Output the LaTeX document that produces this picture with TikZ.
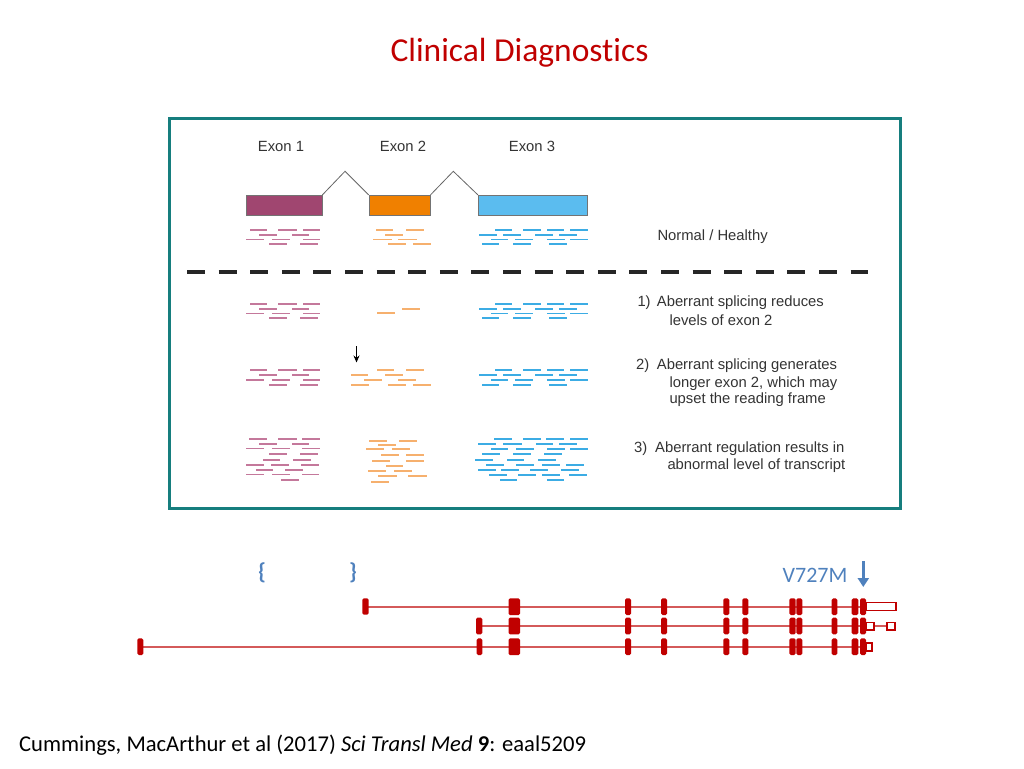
\documentclass[tikz,border=0pt]{standalone}
\usepackage{fontspec}
\setmainfont{Carlito}[Ligatures=NoCommon]
\newfontfamily\arialf{Liberation Sans}
\usetikzlibrary{arrows.meta}
\definecolor{titlered}{RGB}{192,0,0}
\definecolor{framecol}{RGB}{22,126,126}
\definecolor{exA}{RGB}{160,70,112}
\definecolor{exB}{RGB}{240,128,0}
\definecolor{exC}{RGB}{91,188,239}
\definecolor{rdA}{RGB}{196,120,155}
\definecolor{rdB}{RGB}{246,176,110}
\definecolor{rdC}{RGB}{60,172,228}
\definecolor{txtg}{RGB}{51,51,51}
\definecolor{steel}{RGB}{79,129,189}
\definecolor{gred}{RGB}{192,0,0}
\definecolor{gline}{RGB}{212,90,90}
\newcommand\rdsA[1]{%
  \foreach \a/\b/\r in {250/267/0,278/297/0,303/320/0,259/277/1,292/309/1,246/264/2,272/290/2,303/320/2,269/287/3,300/318/3}
    \draw[readA] (\a,{#1+\r*4.75}) -- (\b,{#1+\r*4.75});}
\newcommand\rdsC[1]{%
  \foreach \a/\b/\r in {495/512/0,523/541/0,547/564/0,570/588/0,479/497/1,503/521/1,535/553/1,559/577/1,491/508/2,515/533/2,547/565/2,570/588/2,482/499/3,513/531/3,549/567/3}
    \draw[readC] (\a,{#1+\r*4.75}) -- (\b,{#1+\r*4.75});}
\tikzset{
  readA/.style={rdA, line width=1.9pt},
  readB/.style={rdB, line width=1.9pt},
  readC/.style={rdC, line width=1.9pt},
  exonbox/.style={draw=black!55, line width=0.8pt, minimum height=20pt, inner sep=0pt},
  lbl/.style={font=\arialf\fontsize{14.8}{17}\selectfont, text=txtg, inner sep=0pt},
  desc/.style={lbl, anchor=west},
  gexon/.style={fill=gred, rounded corners=1.5pt},
  gutr/.style={draw=gred, line width=1.6pt, fill=white},
  gintron/.style={gline, line width=1.8pt},
  splice/.style={draw=black!60, line width=0.8pt},
  brace/.style={font=\bfseries\fontsize{23}{25}\selectfont, text=steel, inner sep=0pt},
}
\begin{document}
\begin{tikzpicture}[x=1pt,y=-1pt]
\useasboundingbox (0,0) rectangle (1024,768);
% title
\node[font=\fontsize{33.5}{36}\selectfont, text=titlered, inner sep=0pt] (title) at (519.5,53) {Clinical Diagnostics};
% frame
\draw[framecol, line width=3.2pt] (169.6,118.6) rectangle (900.4,508.8);
% exon labels
\node[lbl] (l1) at (281,146) {Exon 1};
\node[lbl] (l2) at (403,146) {Exon 2};
\node[lbl] (l3) at (532,146) {Exon 3};
% exon boxes
\node[exonbox, fill=exA, minimum width=76pt] (e1) at (284,205.3) {};
\node[exonbox, fill=exB, minimum width=61pt] (e2) at (399.6,205.3) {};
\node[exonbox, fill=exC, minimum width=109pt] (e3) at (532.8,205.3) {};
\coordinate (s1) at (345,171.3);
\coordinate (s2) at (453.3,171.3);
\draw[splice] (e1.north east) -- (s1) -- (e2.north west);
\draw[splice] (e2.north east) -- (s2) -- (e3.north west);
% normal reads
\rdsA{230}
\rdsC{230}
\foreach \a/\b/\r in {376/393/0,406/424/0,385/403/1,373/392/2,398/417/2,388/406/3,413/431/3}
  \draw[readB] (\a,{230+\r*4.75}) -- (\b,{230+\r*4.75});
\node[desc] (t0) at (657.3,237) {Normal / Healthy};
% dashed divider
\coordinate (dl) at (187,272);
\coordinate (dr) at (868,272);
\draw[black!85, line width=3.6pt, dash pattern=on 18pt off 13.6pt] (dl) -- (dr);
% scenario 1
\rdsA{304}
\rdsC{304}
\draw[readB] (377,313.3) -- (395,313.3);
\draw[readB] (402,308.7) -- (420,308.7);
\node[desc] (n1) at (637.3,302.7) {1)};
\node[desc] (t1a) at (656.7,302.7) {Aberrant splicing reduces};
\node[desc] (t1b) at (669.3,320) {levels of exon 2};
% scenario 2
\rdsA{370.3}
\rdsC{370.3}
\foreach \a/\b/\r in {377/394/0,406/424/0,351/368/1,385/403/1,364/382/2,398/416/2,351/369/3,388/406/3,413/431/3}
  \draw[readB] (\a,{370.3+\r*4.75}) -- (\b,{370.3+\r*4.75});
\coordinate (ar1) at (356.5,346);
\coordinate (ar2) at (356.5,362.5);
\draw[black, line width=0.9pt, -{Stealth[length=7pt,width=6pt]}] (ar1) -- (ar2);
\node[desc] (n2) at (636,366) {2)};
\node[desc] (t2a) at (656.7,366) {Aberrant splicing generates};
\node[desc] (t2b) at (669.3,384) {longer exon 2, which may};
\node[desc] (t2c) at (669.3,400) {upset the reading frame};
% scenario 3
\foreach \a/\b/\y in {249/267/439.3,278/297/439.3,302/320/439.3,
  259/277/444,292/309/444,
  246/264/448.5,272/290/448.5,302/320/448.5,
  269/287/454.2,300/318/454.2,
  263/280/459.7,293/311/459.7,
  246/264/465.3,271/289/465.3,301/319/465.3,
  256/273/470.2,285/303/470.2,
  246/264/474.5,272/290/474.5,302/319/474.5,
  281/299/480.2}
  \draw[readA] (\a,\y) -- (\b,\y);
\foreach \a/\b/\y in {369/387/440.7,399/417/440.7,
  378/396/445,
  366/384/449.3,392/410/449.3,
  381/399/455,406/424/455,
  372/390/460.7,406/424/460.7,
  386/403/465.7,
  368/386/470.7,394/412/470.7,
  378/397/476,408/427/476,
  371/389/481.7}
  \draw[readB] (\a,\y) -- (\b,\y);
\foreach \a/\b/\y in {494/512/439.3,523/541/439.3,546/564/439.3,570/588/439.3,
  478/496/444,503/522/444,536/553/444,559/577/444,
  491/508/448.7,516/534/448.7,547/565/448.7,570/588/448.7,
  482/500/454,513/531/454,544/562/454,
  475/493/459.7,507/524/459.7,538/556/459.7,
  486/504/465.3,516/534/465.3,542/560/465.3,566/584/465.3,
  478/496/470,501/519/470,530/548/470,561/579/470,
  489/507/474.7,518/536/474.7,542/560/474.7,569/587/474.7,
  500/517/480.3,547/564/480.3}
  \draw[readC] (\a,\y) -- (\b,\y);
\node[desc] (n3) at (634,448.3) {3)};
\node[desc] (t3a) at (655,448.3) {Aberrant regulation results in};
\node[desc] (t3b) at (667.3,465.7) {abnormal level of transcript};
% bottom gene model
\node[brace] (bl) at (262,573) {\{};
\node[brace] (br) at (353,573) {\}};
\node[font=\fontsize{22}{24}\selectfont, text=steel, inner sep=0pt] (mut) at (815,575) {V727M};
\coordinate (va) at (863.3,561);
\coordinate (vb) at (863.3,587);
\draw[steel, line width=3pt, -{Triangle[length=9pt,width=11pt]}] (va) -- (vb);
% track 1
\draw[gintron] (366,606.7) -- (866,606.7);
\draw[gutr] (866,602.5) rectangle (896,610.5);
\fill[gexon] (362.3,598.4) rectangle (368.7,614.6);
% track 2
\draw[gintron] (479,626) -- (886.5,626);
\draw[gutr] (866,622.3) rectangle (874,629.7);
\draw[gutr] (887,622.3) rectangle (895,629.7);
\fill[gexon] (476,617.7) rectangle (482.3,634.3);
% track 3
\draw[gintron] (140,646.7) -- (866,646.7);
\draw[gutr] (866,642.7) rectangle (871.7,650.7);
\fill[gexon] (137.3,638.4) rectangle (143.3,655);
\fill[gexon] (476.7,638.4) rectangle (482.3,655);
% shared exons
\foreach \t in {606.7,626,646.7}{
  \foreach \a/\b in {508.5/520,625/631,661/667,723.3/729.3,742.3/748.3,789.3/795.7,796.3/802.3,831.7/837.3,851.7/858.3,860/866}
    \fill[gexon] (\a,{\t-8.3}) rectangle (\b,{\t+8.3});
}
% citation
\node[anchor=west, font=\fontsize{22.6}{26}\selectfont, inner sep=0pt] (cite) at (19,745.5) {Cummings, MacArthur et al (2017) \textit{Sci Transl Med} \textbf{9}: eaal5209};
\end{tikzpicture}
\end{document}
